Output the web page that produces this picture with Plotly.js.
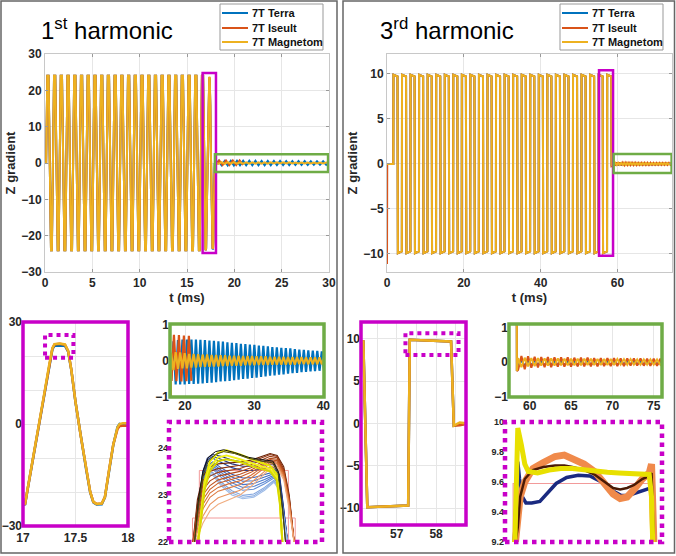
<!DOCTYPE html>
<html><head><meta charset="utf-8">
<script src="https://cdn.plot.ly/plotly-3.0.1.min.js"></script>
<style>html,body{margin:0;padding:0;background:#fff}#plot{width:676px;height:556px}</style>
</head><body><div id="plot"></div><script>
// ---------------- DATA ----------------
const seriesNames = ['7T Terra', '7T Iseult', '7T Magnetom'];

// 1st harmonic: pulse train corners (shared by the three scanners)
const h1TrainT = [0, 0.12,
 0.245, 0.375, 0.635, 0.725,
 0.955, 1.085, 1.345, 1.435,
 1.665, 1.795, 2.055, 2.145,
 2.375, 2.505, 2.765, 2.855,
 3.085, 3.215, 3.475, 3.565,
 3.795, 3.925, 4.185, 4.275,
 4.505, 4.635, 4.895, 4.985,
 5.215, 5.345, 5.605, 5.695,
 5.925, 6.055, 6.315, 6.405,
 6.635, 6.765, 7.025, 7.115,
 7.345, 7.475, 7.735, 7.825,
 8.055, 8.185, 8.445, 8.535,
 8.765, 8.895, 9.155, 9.245,
 9.475, 9.605, 9.865, 9.955,
 10.185, 10.315, 10.575, 10.665,
 10.895, 11.025, 11.285, 11.375,
 11.605, 11.735, 11.995, 12.085,
 12.315, 12.445, 12.705, 12.795,
 13.025, 13.155, 13.415, 13.505,
 13.735, 13.865, 14.125, 14.215,
 14.445, 14.575, 14.835, 14.925,
 15.155, 15.285, 15.545, 15.635,
 15.865, 15.995, 16.255, 16.345,
 16.575, 16.705];
const h1TrainZ = [0, 0,
 24,24,-24,-24, 24,24,-24,-24, 24,24,-24,-24, 24,24,-24,-24,
 24,24,-24,-24, 24,24,-24,-24, 24,24,-24,-24, 24,24,-24,-24,
 24,24,-24,-24, 24,24,-24,-24, 24,24,-24,-24, 24,24,-24,-24,
 24,24,-24,-24, 24,24,-24,-24, 24,24,-24,-24, 24,24,-24,-24,
 24,24,-24,-24, 24,24,-24,-24, 24,24,-24,-24, 24,24,-24,-24,
 24,24,-24,-24, 24,24,-24,-24, 24,24,-24,-24,
 24, 24];
// last cycle, in detail
const h1LastT = [16.965, 17.02, 17.05, 17.10, 17.15, 17.20, 17.25, 17.28, 17.30, 17.35, 17.40, 17.43, 17.46, 17.50, 17.55, 17.60, 17.64, 17.67, 17.70, 17.75, 17.78, 17.82, 17.86, 17.90, 17.92, 17.95];
const h1LastTerra = [-24, -23.6, -18.2, -9.6, -0.6, 8.4, 17.3, 22.0, 23.0, 23.1, 23.0, 21.3, 15.9, 6.4, -3.6, -13.1, -20.1, -23.1, -23.7, -23.6, -21.6, -13.6, -6.1, -0.9, 0, -0.3];
const h1LastIseult = [-24, -23.5, -18.1, -9.5, -0.5, 8.5, 17.4, 22.2, 23.4, 23.6, 23.3, 21.4, 16, 6.5, -3.5, -13, -20, -22.9, -23.5, -23.4, -21.5, -13.5, -6, -1.5, -0.6, -0.5];
const h1LastMag = [-24, -23.4, -18, -9.5, -0.5, 8.5, 17.5, 22.3, 23.5, 23.7, 23.4, 21.5, 16, 6.5, -3.5, -13, -20, -22.9, -23.5, -23.4, -21.5, -13.5, -6, -1, 0, 0.2];
// ringing after the pulse
const h1RingT = [18.00, 18.33, 18.65, 18.98, 19.30, 19.63, 19.95, 20.28, 20.60, 20.93,
 21.25, 21.58, 21.90, 22.23, 22.55, 22.88, 23.20, 23.53, 23.85, 24.18,
 24.50, 24.83, 25.15, 25.48, 25.80, 26.13, 26.45, 26.78, 27.10, 27.43,
 27.75, 28.08, 28.40, 28.73, 29.05, 29.38, 29.70, 30.03, 30.35, 30.68,
 31.00, 31.33, 31.65, 31.98, 32.30, 32.63, 32.95, 33.28, 33.60, 33.93,
 34.25, 34.58, 34.90, 35.23, 35.55, 35.88, 36.20, 36.53, 36.85, 37.18,
 37.50, 37.83, 38.15, 38.48, 38.80, 39.13, 39.45, 39.78, 40.10];
const h1RingTerra = [-0.55, 0.55, -0.65, 0.58, -0.65, 0.6, -0.65, 0.6, -0.64, 0.6,
 -0.64, 0.6, -0.63, 0.59, -0.62, 0.58, -0.61, 0.57, -0.6, 0.56,
 -0.59, 0.55, -0.57, 0.54, -0.56, 0.52, -0.55, 0.51, -0.53, 0.5,
 -0.52, 0.48, -0.5, 0.47, -0.49, 0.46, -0.47, 0.45, -0.46, 0.43,
 -0.44, 0.42, -0.43, 0.41, -0.41, 0.39, -0.4, 0.38, -0.38, 0.37,
 -0.37, 0.36, -0.35, 0.35, -0.34, 0.33, -0.33, 0.32, -0.31, 0.31,
 -0.3, 0.3, -0.29, 0.29, -0.28, 0.28, -0.27, 0.27, -0.26];
const h1RingMag = [0.2, -0.25, 0.25, -0.22, 0.24, -0.2, 0.22, -0.2, 0.2, -0.18,
 0.2, -0.18, 0.19, -0.17, 0.18, -0.16, 0.18, -0.16, 0.17, -0.15,
 0.17, -0.15, 0.16, -0.14, 0.16, -0.14, 0.15, -0.13, 0.15, -0.13,
 0.15, -0.13, 0.14, -0.12, 0.14, -0.12, 0.14, -0.12, 0.13, -0.11,
 0.13, -0.11, 0.13, -0.11, 0.12, -0.1, 0.12, -0.1, 0.12, -0.1,
 0.12, -0.1, 0.11, -0.1, 0.11, -0.1, 0.11, -0.09, 0.11, -0.09,
 0.1, -0.09, 0.1, -0.09, 0.1, -0.09, 0.1, -0.09, 0.1];
const h1RingIseultT = [18.04, 18.40, 18.76, 19.12, 19.48, 19.84, 20.20, 20.56, 20.92];
const h1RingIseult = [-0.55, 0.73, -0.56, 0.72, -0.57, 0.71, -0.56, 0.7, -0.55];

// 3rd harmonic: pulse train corners
const h3TrainT = [0, 1.64, 1.68, 2.73, 2.83,
 3.87, 3.91, 4.96, 5.06,
 6.09, 6.13, 7.18, 7.28,
 8.32, 8.36, 9.41, 9.51,
 10.54, 10.58, 11.63, 11.73,
 12.77, 12.81, 13.86, 13.96,
 15.00, 15.04, 16.09, 16.19,
 17.22, 17.26, 18.31, 18.41,
 19.45, 19.49, 20.54, 20.64,
 21.67, 21.71, 22.76, 22.86,
 23.90, 23.94, 24.99, 25.09,
 26.13, 26.17, 27.22, 27.32,
 28.35, 28.39, 29.44, 29.54,
 30.58, 30.62, 31.67, 31.77,
 32.80, 32.84, 33.89, 33.99,
 35.03, 35.07, 36.12, 36.22,
 37.26, 37.30, 38.35, 38.45,
 39.48, 39.52, 40.57, 40.67,
 41.71, 41.75, 42.80, 42.90,
 43.93, 43.97, 45.02, 45.12,
 46.16, 46.20, 47.25, 47.35,
 48.39, 48.43, 49.48, 49.58,
 50.61, 50.65, 51.70, 51.80,
 52.84, 52.88, 53.93, 54.03,
 55.06, 55.10, 56.15, 56.25,
 57.29, 57.33, 58.38, 58.45];
const h3TrainZ = [0, 0, 9.9, 9.7, -9.9,
 -9.7, 9.9, 9.7, -9.9,  -9.7, 9.9, 9.7, -9.9,  -9.7, 9.9, 9.7, -9.9,  -9.7, 9.9, 9.7, -9.9,
 -9.7, 9.9, 9.7, -9.9,  -9.7, 9.9, 9.7, -9.9,  -9.7, 9.9, 9.7, -9.9,  -9.7, 9.9, 9.7, -9.9,
 -9.7, 9.9, 9.7, -9.9,  -9.7, 9.9, 9.7, -9.9,  -9.7, 9.9, 9.7, -9.9,  -9.7, 9.9, 9.7, -9.9,
 -9.7, 9.9, 9.7, -9.9,  -9.7, 9.9, 9.7, -9.9,  -9.7, 9.9, 9.7, -9.9,  -9.7, 9.9, 9.7, -9.9,
 -9.7, 9.9, 9.7, -9.9,  -9.7, 9.9, 9.7, -9.9,  -9.7, 9.9, 9.7, -9.9,  -9.7, 9.9, 9.7, -9.9,
 -9.7, 9.9, 9.7, -9.9,  -9.7, 9.9, 9.7, -9.9,  -9.7, 9.9, 9.7, -9.9,  -9.7, 9.9, 9.7, -9.9,
 -9.7, 9.9, 9.7, -0.25];
const h3IseultStartT = [0, 0.06];
const h3IseultStartZ = [-11.1, 0];
const h3RingT = [58.6, 59.0, 59.4, 59.8, 60.2, 60.6, 61.0, 61.4, 61.8, 62.2,
 62.6, 63.0, 63.4, 63.8, 64.2, 64.6, 65.0, 65.4, 65.8, 66.2,
 66.6, 67.0, 67.4, 67.8, 68.2, 68.6, 69.0, 69.4, 69.8, 70.2,
 70.6, 71.0, 71.4, 71.8, 72.2, 72.6, 73.0, 73.4, 73.8, 74.2,
 74.6, 75.0, 75.4, 75.8, 76.2];
const h3RingIseult = [-0.22, 0.18, -0.2, 0.17, -0.16, 0.16, -0.15, 0.15, -0.14, 0.15,
 -0.14, 0.14, -0.13, 0.14, -0.13, 0.14, -0.13, 0.13, -0.12, 0.13,
 -0.12, 0.13, -0.12, 0.12, -0.12, 0.12, -0.11, 0.12, -0.11, 0.12,
 -0.11, 0.11, -0.11, 0.11, -0.1, 0.11, -0.1, 0.11, -0.1, 0.1,
 -0.1, 0.1, -0.1, 0.1, -0.09];
const h3RingMag = [0.12, -0.14, 0.13, -0.12, 0.12, -0.11, 0.12, -0.1, 0.11, -0.1,
 0.11, -0.1, 0.11, -0.09, 0.1, -0.09, 0.1, -0.09, 0.1, -0.09,
 0.1, -0.08, 0.1, -0.08, 0.09, -0.08, 0.09, -0.08, 0.09, -0.08,
 0.09, -0.07, 0.09, -0.07, 0.09, -0.07, 0.08, -0.07, 0.08, -0.07,
 0.08, -0.07, 0.08, -0.07, 0.08];
const h3RingTerra = [-0.1, 0.05, -0.1, 0.05, -0.09, 0.05, -0.09, 0.04, -0.09, 0.04,
 -0.08, 0.04, -0.08, 0.04, -0.08, 0.04, -0.08, 0.04, -0.08, 0.04,
 -0.07, 0.04, -0.07, 0.03, -0.07, 0.03, -0.07, 0.03, -0.07, 0.03,
 -0.07, 0.03, -0.06, 0.03, -0.06, 0.03, -0.06, 0.03, -0.06, 0.03,
 -0.06, 0.03, -0.06, 0.03, -0.06];

// 1st harmonic peak detail (individual cycles)
const pkPinkAT = [17.2555, 17.2555, 17.4185, 17.4185];
const pkPinkAZ = [21.8, 23.52, 23.52, 21.8];
const pkPinkBT = [17.243, 17.243, 17.431, 17.431];
const pkPinkBZ = [21.8, 22.51, 22.51, 21.8];
const pkBlueT = [17.246, 17.254, 17.262, 17.270, 17.280, 17.295, 17.315, 17.335, 17.355, 17.375, 17.392, 17.402, 17.410, 17.418];
const pkBlueZ = [
 [21.9, 22.9, 23.5, 23.78, 23.86, 23.82, 23.74, 23.70, 23.70, 23.72, 23.70, 23.45, 22.7, 21.9],
 [21.9, 22.85, 23.45, 23.74, 23.82, 23.76, 23.66, 23.61, 23.61, 23.64, 23.64, 23.4, 22.68, 21.9],
 [21.9, 22.8, 23.4, 23.7, 23.78, 23.7, 23.58, 23.52, 23.52, 23.56, 23.58, 23.35, 22.65, 21.9],
 [21.9, 22.7, 23.32, 23.62, 23.7, 23.58, 23.44, 23.36, 23.37, 23.44, 23.49, 23.28, 22.6, 21.9],
 [21.9, 22.65, 23.28, 23.59, 23.66, 23.53, 23.38, 23.29, 23.3, 23.38, 23.45, 23.25, 22.58, 21.9],
 [21.9, 22.6, 23.25, 23.56, 23.62, 23.48, 23.32, 23.22, 23.24, 23.33, 23.42, 23.22, 22.55, 21.9],
 [21.9, 22.58, 23.22, 23.53, 23.58, 23.43, 23.26, 23.16, 23.18, 23.28, 23.39, 23.2, 22.52, 21.9],
 [21.9, 22.55, 23.2, 23.5, 23.55, 23.38, 23.2, 23.1, 23.12, 23.24, 23.36, 23.18, 22.5, 21.9],
 [21.9, 22.5, 23.15, 23.45, 23.48, 23.28, 23.09, 22.99, 23.02, 23.16, 23.31, 23.14, 22.48, 21.9],
 [21.9, 22.48, 23.12, 23.42, 23.45, 23.24, 23.04, 22.95, 22.98, 23.13, 23.29, 23.12, 22.46, 21.9],
 [21.9, 22.45, 23.1, 23.4, 23.42, 23.2, 23.0, 22.92, 22.95, 23.1, 23.27, 23.1, 22.45, 21.9]];
const pkOrT = [17.243, 17.252, 17.262, 17.275, 17.29, 17.31, 17.33, 17.35, 17.37, 17.385, 17.398, 17.410, 17.420, 17.430];
const pkOrZ = [
 [21.9, 22.9, 23.4, 23.6, 23.66, 23.68, 23.7, 23.74, 23.82, 23.88, 23.84, 23.6, 23.0, 21.9],
 [21.9, 22.8, 23.3, 23.5, 23.56, 23.6, 23.63, 23.7, 23.8, 23.86, 23.82, 23.55, 22.95, 21.9],
 [21.9, 22.7, 23.2, 23.4, 23.48, 23.52, 23.56, 23.64, 23.75, 23.82, 23.79, 23.52, 22.92, 21.9],
 [21.9, 22.6, 23.1, 23.3, 23.4, 23.45, 23.5, 23.58, 23.7, 23.78, 23.76, 23.5, 22.9, 21.9],
 [21.9, 22.52, 23.0, 23.2, 23.32, 23.38, 23.44, 23.53, 23.66, 23.75, 23.73, 23.47, 22.87, 21.9],
 [21.9, 22.45, 22.9, 23.12, 23.25, 23.32, 23.38, 23.48, 23.62, 23.72, 23.7, 23.45, 22.85, 21.9],
 [21.9, 22.38, 22.8, 23.04, 23.16, 23.24, 23.3, 23.42, 23.58, 23.69, 23.68, 23.42, 22.82, 21.9],
 [21.9, 22.3, 22.7, 22.95, 23.08, 23.15, 23.22, 23.36, 23.54, 23.66, 23.66, 23.4, 22.8, 21.9],
 [21.9, 22.2, 22.55, 22.8, 22.94, 23.02, 23.1, 23.26, 23.46, 23.6, 23.62, 23.36, 22.75, 21.9],
 [21.9, 22.1, 22.4, 22.66, 22.8, 22.9, 23.0, 23.18, 23.4, 23.56, 23.58, 23.32, 22.7, 21.9]];
const pkKT = [17.246, 17.254, 17.262, 17.272, 17.285, 17.30, 17.32, 17.345, 17.37, 17.39, 17.40, 17.408, 17.414];
const pkKZ = [
 [21.9, 22.9, 23.5, 23.8, 23.92, 23.96, 23.9, 23.8, 23.75, 23.72, 23.5, 22.7, 21.9],
 [21.9, 22.8, 23.4, 23.72, 23.86, 23.92, 23.88, 23.78, 23.72, 23.68, 23.45, 22.65, 21.9]];
const pkYT = [17.252, 17.258, 17.265, 17.275, 17.29, 17.305, 17.33, 17.36, 17.385, 17.397, 17.403, 17.408];
const pkYZ = [
 [21.9, 22.6, 23.3, 23.72, 23.9, 23.95, 23.86, 23.72, 23.62, 23.45, 22.9, 21.9],
 [21.9, 22.5, 23.2, 23.6, 23.8, 23.84, 23.76, 23.64, 23.55, 23.38, 22.85, 21.9],
 [21.9, 22.4, 23.1, 23.52, 23.72, 23.76, 23.7, 23.58, 23.5, 23.32, 22.8, 21.9]];

// 3rd harmonic plateau detail
const plPinkT = [57.29, 57.29, 58.50, 58.50];
const plPinkZ = [9.15, 9.59, 9.59, 9.15];
const plTerraT = [57.30, 57.315, 57.33, 57.345, 57.37, 57.40, 57.45, 57.52, 57.58, 57.66, 57.75, 57.85, 57.95, 58.05, 58.15, 58.22, 58.28, 58.35, 58.42, 58.47, 58.49, 58.50];
const plTerraZ = [9.2, 9.5, 9.735, 9.62, 9.5, 9.46, 9.46, 9.47, 9.52, 9.59, 9.63, 9.645, 9.64, 9.6, 9.54, 9.51, 9.51, 9.53, 9.55, 9.56, 9.4, 9.2];
const plIseultT = [57.31, 57.33, 57.35, 57.39, 57.46, 57.55, 57.65, 57.73, 57.80, 57.90, 57.99, 58.08, 58.15, 58.21, 58.27, 58.33, 58.40, 58.46, 58.48, 58.50];
const plIseultZ = [9.2, 9.35, 9.5, 9.6, 9.69, 9.73, 9.77, 9.78, 9.76, 9.72, 9.67, 9.59, 9.52, 9.49, 9.5, 9.55, 9.62, 9.66, 9.72, 9.2];
const plIseultDarkZ = [9.2, 9.3, 9.5, 9.62, 9.68, 9.7, 9.71, 9.71, 9.7, 9.68, 9.65, 9.6, 9.56, 9.55, 9.56, 9.58, 9.62, 9.64, 9.66, 9.2];
const plMagT = [57.305, 57.318, 57.33, 57.36, 57.39, 57.42, 57.50, 57.60, 57.70, 57.80, 57.90, 58.00, 58.10, 58.20, 58.30, 58.40, 58.46, 58.48, 58.49];
const plMagZ = [9.2, 9.7, 9.96, 9.85, 9.72, 9.67, 9.66, 9.68, 9.69, 9.69, 9.68, 9.67, 9.665, 9.66, 9.655, 9.65, 9.65, 9.5, 9.2];

// ---------------- STYLE / LAYOUT ----------------
const F = 'Liberation Sans, Arial, Helvetica, sans-serif';
const C = {terra: '#0072BD', iseult: '#D95319', mag: '#EDB120', magenta: '#C800C8', green: '#6FAC46'};
const W = 676, H = 556;
const px = v => v / W, py = v => 1 - v / H;
const dom = (a, b) => [a / W, b / W];
const domY = (top, bottom) => [1 - bottom / H, 1 - top / H];

function tr(x, y, color, width, xa, ya, name) {
  return {type: 'scatter', mode: 'lines', x: x, y: y, xaxis: xa, yaxis: ya, name: name || 'detail',
    line: {color: color, width: width}, hoverinfo: 'skip', showlegend: false};
}

const h1Terra = {x: h1TrainT.concat(h1LastT, h1RingT), y: h1TrainZ.concat(h1LastTerra, h1RingTerra)};
const h1Iseult = {x: h1TrainT.concat(h1LastT, h1RingIseultT), y: h1TrainZ.concat(h1LastIseult, h1RingIseult)};
const h1Mag = {x: h1TrainT.concat(h1LastT, h1RingT), y: h1TrainZ.concat(h1LastMag, h1RingMag)};
const h3Terra = {x: h3TrainT.concat(h3RingT), y: h3TrainZ.concat(h3RingTerra)};
const h3Iseult = {x: h3IseultStartT.concat(h3TrainT.slice(1), h3RingT), y: h3IseultStartZ.concat(h3TrainZ.slice(1), h3RingIseult)};
const h3Mag = {x: h3TrainT.concat(h3RingT), y: h3TrainZ.concat(h3RingMag)};

const traces = [];
[['x', 'y', 2], ['x3', 'y3', 2.5], ['x4', 'y4', 2.2]].forEach(([xa, ya, w]) => {
  traces.push(tr(h1Terra.x, h1Terra.y, C.terra, w, xa, ya, seriesNames[0]));
  traces.push(tr(h1Iseult.x, h1Iseult.y, C.iseult, w, xa, ya, seriesNames[1]));
  traces.push(tr(h1Mag.x, h1Mag.y, C.mag, w, xa, ya, seriesNames[2]));
});
[['x2', 'y2', 2], ['x6', 'y6', 2.5], ['x7', 'y7', 2]].forEach(([xa, ya, w]) => {
  traces.push(tr(h3Terra.x, h3Terra.y, C.terra, w, xa, ya, seriesNames[0]));
  traces.push(tr(h3Iseult.x, h3Iseult.y, C.iseult, w, xa, ya, seriesNames[1]));
  traces.push(tr(h3Mag.x, h3Mag.y, C.mag, w, xa, ya, seriesNames[2]));
});
// peak detail (x5/y5)
const pink = '#F29A9A';
traces.push(tr(pkPinkAT, pkPinkAZ, pink, 1, 'x5', 'y5'));
traces.push(tr(pkPinkBT, pkPinkBZ, pink, 1, 'x5', 'y5'));
const blueCols = ['#1B2F7A', '#20398C', '#24449C', '#3560B8', '#3F6CC2', '#4A78CC', '#5884D1', '#6690D6', '#82A6DF', '#90B1E3', '#9DBBE7'];
pkBlueZ.forEach((z, i) => traces.push(tr(pkBlueT, z, blueCols[i], 1.1, 'x5', 'y5')));
const orCols = ['#6B2408', '#8E3310', '#9F3D14', '#B04818', '#BE5320', '#CC5F28', '#D56C34', '#DE7A40', '#E99560', '#F0AD80'];
pkOrZ.forEach((z, i) => traces.push(tr(pkOrT, z, orCols[i], 1.1, 'x5', 'y5')));
const yCols = ['#E8E800', '#F2F21A', '#D8D800'];
pkYZ.forEach((z, i) => traces.push(tr(pkYT, z, yCols[i], 2, 'x5', 'y5')));
const kCols = ['#111111', '#4A4A10'];
pkKZ.forEach((z, i) => traces.push(tr(pkKT, z, kCols[i], 1, 'x5', 'y5')));
// plateau detail (x8/y8)
traces.push(tr(plPinkT, plPinkZ, pink, 1.2, 'x8', 'y8'));
traces.push(tr(plTerraT, plTerraZ, '#1A2A80', 3.5, 'x8', 'y8'));
traces.push(tr(plIseultT, plIseultZ, '#F08A4B', 7, 'x8', 'y8'));
traces.push(tr(plIseultT, plIseultDarkZ, '#4A1A05', 2.5, 'x8', 'y8'));
traces.push(tr(plMagT, plMagZ, '#E8E000', 5, 'x8', 'y8'));

const tfont = (s) => ({family: F, size: s, color: '#262626', weight: 'bold'});
function ax(domain, range, anchor, extra) {
  return Object.assign({domain: domain, range: range, anchor: anchor, showgrid: true, gridcolor: '#E6E6E6',
    gridwidth: 1, zeroline: false, showline: false, ticks: '', tickfont: tfont(12), fixedrange: true}, extra || {});
}
const topX = {showline: true, linecolor: '#C8C8C8', mirror: 'ticks', ticks: 'inside', ticklen: 3, tickcolor: '#999'};
const titleFont = {family: F, size: 13, color: '#262626', weight: 'bold'};
const minorGrid = (t0, d) => ({tick0: t0, dtick: d, showgrid: true, gridcolor: '#E6E6E6', ticks: ''});

const layout = {
  width: W, height: H, margin: {l: 0, r: 0, t: 0, b: 0}, paper_bgcolor: '#fff', plot_bgcolor: '#fff',
  showlegend: false,
  xaxis: ax(dom(45, 329), [0, 30], 'y', Object.assign({tickvals: [0, 5, 10, 15, 20, 25, 30], title: {text: 't (ms)', font: titleFont, standoff: 3}}, topX)),
  yaxis: ax(domY(54, 272), [-30, 30], 'x', Object.assign({tickvals: [-30, -20, -10, 0, 10, 20, 30], title: {text: 'Z gradient', font: titleFont, standoff: 2}}, topX)),
  xaxis2: ax(dom(387, 672), [0, 74.2], 'y2', Object.assign({tickvals: [0, 20, 40, 60], title: {text: 't (ms)', font: titleFont, standoff: 3}}, topX)),
  yaxis2: ax(domY(54, 272), [-12, 12.2], 'x2', Object.assign({tickvals: [-10, -5, 0, 5, 10], title: {text: 'Z gradient', font: titleFont, standoff: 2}}, topX)),
  xaxis3: ax(dom(23, 128), [17, 18], 'y3', {tickvals: [17, 17.5, 18], ticktext: ['17', '17.5', '18'], ticklabelstandoff: 3}),
  yaxis3: ax(domY(322, 526), [-30, 30], 'x3', {tickvals: [-30, 0, 30], minor: minorGrid(-30, 10)}),
  xaxis4: ax(dom(170, 324), [17.83, 40.1], 'y4', {tickvals: [20, 30, 40]}),
  yaxis4: ax(domY(324, 397), [-1, 1.03], 'x4', {tickvals: [-1, 0, 1], showgrid: false}),
  xaxis5: ax(dom(169, 322), [17.20, 17.48], 'y5', {showgrid: false, showticklabels: false}),
  yaxis5: ax(domY(422, 542), [22, 24.55], 'x5', {showgrid: false, tickvals: [22, 23, 24], tickfont: tfont(9)}),
  xaxis6: ax(dom(361, 466), [56.09, 58.76], 'y6', {tickvals: [57, 58], minor: minorGrid(56, 0.5)}),
  yaxis6: ax(domY(322, 525), [-12, 12], 'x6', {tickvals: [-10, -5, 0, 5, 10]}),
  xaxis7: ax(dom(509, 662), [57.5, 76], 'y7', {tickvals: [60, 65, 70, 75]}),
  yaxis7: ax(domY(324, 397), [-1, 1.1], 'x7', {tickvals: [-1, 0, 1], showgrid: false}),
  xaxis8: ax(dom(505, 662), [57.22, 58.57], 'y8', {showgrid: false, showticklabels: false}),
  yaxis8: ax(domY(422, 542), [9.2, 10], 'x8', {showgrid: false, tickvals: [9.2, 9.4, 9.6, 9.8, 10], ticktext: ['9.2', '9.4', '9.6', '9.8', '10'], tickfont: tfont(9)}),
  shapes: [],
  annotations: []
};

// panel borders
[[1, 337], [343, 674.5]].forEach(([a, b]) => layout.shapes.push({type: 'rect', xref: 'paper', yref: 'paper',
  x0: px(a), x1: px(b), y0: py(553), y1: py(1), line: {color: '#666', width: 1.5}, layer: 'above'}));

// frames of the bottom panels
const frame = (n, color, dash, w) => ({type: 'rect', xref: 'x' + n + ' domain', yref: 'y' + n + ' domain',
  x0: 0, x1: 1, y0: 0, y1: 1, line: {color: color, width: w, dash: dash}, layer: 'above'});
layout.shapes.push(frame(3, C.magenta, 'solid', 3.5));
layout.shapes.push(frame(4, C.green, 'solid', 3.5));
layout.shapes.push(frame(5, C.magenta, 'dot', 4.5));
layout.shapes.push(frame(6, C.magenta, 'solid', 3.5));
layout.shapes.push(frame(7, C.green, 'solid', 3.5));
layout.shapes.push(frame(8, C.magenta, 'dot', 4.5));

// zoom boxes in data coordinates
const box = (xa, ya, x0, x1, y0, y1, color, dash, w) => ({type: 'rect', xref: xa, yref: ya, x0: x0, x1: x1, y0: y0, y1: y1,
  line: {color: color, width: w, dash: dash}, layer: 'above'});
layout.shapes.push(box('x', 'y', 16.65, 18.06, -24.8, 24.8, C.magenta, 'solid', 2.5));
layout.shapes.push(box('x', 'y', 17.95, 29.9, -2.45, 2.4, C.green, 'solid', 2.5));
layout.shapes.push(box('x2', 'y2', 55.2, 58.85, -10.2, 10.4, C.magenta, 'solid', 2.5));
layout.shapes.push(box('x2', 'y2', 59.0, 74.1, -1.0, 1.1, C.green, 'solid', 2.5));
layout.shapes.push(box('x3', 'y3', 17.21, 17.48, 19.5, 26.2, C.magenta, 'dot', 4));
layout.shapes.push(box('x6', 'y6', 57.22, 58.57, 8.1, 10.67, C.magenta, 'dot', 4));

// legends (drawn by hand, compact like the original)
const legCols = [C.terra, C.iseult, C.mag];
[0, 340].forEach(off => {
  layout.shapes.push({type: 'rect', xref: 'paper', yref: 'paper', x0: px(220 + off), x1: px(323 + off), y0: py(50), y1: py(4),
    line: {color: '#999', width: 1}, fillcolor: '#fff', layer: 'above'});
  [13, 28, 42].forEach((yy, i) => {
    layout.shapes.push({type: 'line', xref: 'paper', yref: 'paper', x0: px(222 + off), x1: px(248 + off), y0: py(yy), y1: py(yy),
      line: {color: legCols[i], width: 2}, layer: 'above'});
    layout.annotations.push({xref: 'paper', yref: 'paper', x: px(250 + off), y: py(yy), xanchor: 'left', yanchor: 'middle',
      showarrow: false, text: seriesNames[i], font: {family: F, size: 11, color: '#111', weight: 'bold'}});
  });
});
// panel titles
layout.annotations.push({xref: 'paper', yref: 'paper', x: px(39), y: py(29), xanchor: 'left', yanchor: 'middle', showarrow: false,
  text: '1<sup>st</sup> harmonic', font: {family: F, size: 24, color: '#000'}});
layout.annotations.push({xref: 'paper', yref: 'paper', x: px(378), y: py(29), xanchor: 'left', yanchor: 'middle', showarrow: false,
  text: '3<sup>rd</sup> harmonic', font: {family: F, size: 24, color: '#000'}});

Plotly.newPlot('plot', traces, layout, {staticPlot: true, displayModeBar: false});
</script></body></html>
